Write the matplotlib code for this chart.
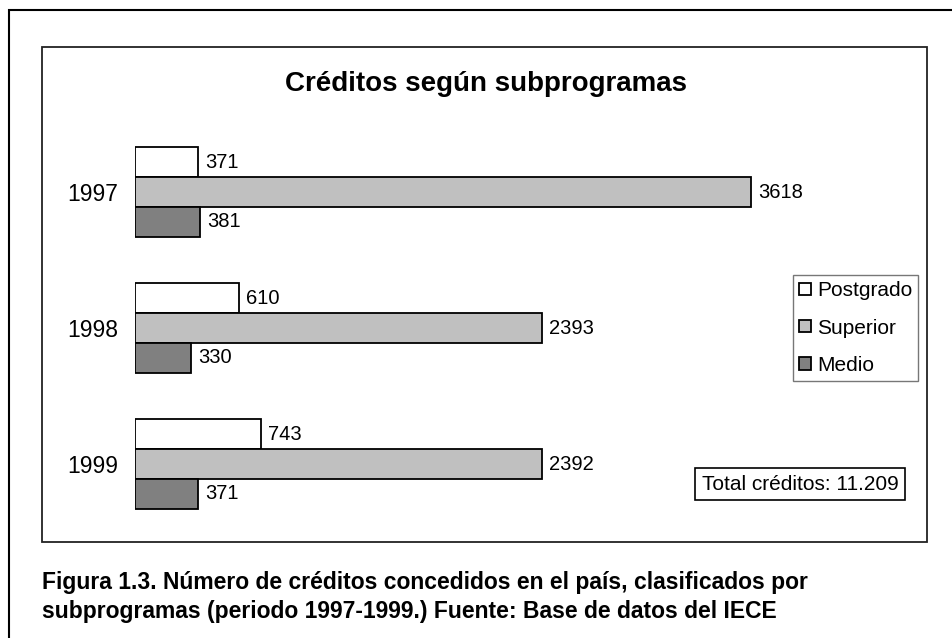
import matplotlib
matplotlib.use("Agg")
import matplotlib.pyplot as plt
from matplotlib.patches import Rectangle
import numpy as np

plt.rcParams['font.family'] = ['Liberation Sans', 'DejaVu Sans']

years = ["1997", "1998", "1999"]
series_names = ["Postgrado", "Superior", "Medio"]
postgrado = [371, 610, 743]
superior = [3618, 2393, 2392]
medio = [381, 330, 371]
colors = ["#FFFFFF", "#C0C0C0", "#808080"]
title = "Créditos según subprogramas"
total_text = "Total créditos: 11.209"
caption = ("Figura 1.3. Número de créditos concedidos en el país, clasificados por\n"
           "subprogramas (periodo 1997-1999.) Fuente: Base de datos del IECE")

W, H = 952, 638
fig = plt.figure(figsize=(W / 100, H / 100), dpi=100)

def fx(px):
    return px / W

def fy(py):
    return 1 - py / H

# outer and inner borders
fig.patches.append(Rectangle((fx(9), fy(1000)), fx(1200), fy(10) - fy(1000),
                             transform=fig.transFigure, fill=False, lw=1.5, ec="black"))
fig.patches.append(Rectangle((fx(42), fy(542)), fx(927) - fx(42), fy(47) - fy(542),
                             transform=fig.transFigure, fill=False, lw=1.3, ec="#222222"))

ax = fig.add_axes([fx(135), fy(530), fx(901) - fx(135), fy(100) - fy(530)])
ax.set_facecolor("none")
ypos = np.arange(len(years))
bh = 0.22
data = [postgrado, superior, medio]
for i, (vals, name, c) in enumerate(zip(data, series_names, colors)):
    offs = (i - 1) * bh
    bars = ax.barh(ypos + offs, vals, height=bh, color=c, edgecolor="black",
                   linewidth=1.3, label=name)
    for b, v in zip(bars, vals):
        ax.annotate(str(v), (v, b.get_y() + b.get_height() / 2),
                    xytext=(5, 0), textcoords="offset points",
                    va="center", ha="left", fontsize=14.5)

ax.set_xlim(0, 4500)
ax.set_ylim(2.485, -0.6765)
ax.set_yticks(ypos)
ax.set_yticklabels(years, fontsize=16.5)
ax.tick_params(axis="y", length=0, pad=12)
ax.set_xticks([])
for s in ax.spines.values():
    s.set_visible(False)

leg = fig.legend(loc="upper left", bbox_to_anchor=(fx(793), fy(275)),
                 frameon=True, fancybox=False, fontsize=15, handlelength=0.55,
                 handleheight=0.55, handletextpad=0.3, labelspacing=0.88,
                 borderpad=0.3, borderaxespad=0)
leg.get_frame().set_edgecolor("#555555")
leg.get_frame().set_linewidth(1.0)

fig.text(fx(486), fy(84), title, fontsize=20, fontweight="bold",
         ha="center", va="center")

fig.text(fx(800), fy(484), total_text, fontsize=15, ha="center", va="center",
         bbox=dict(boxstyle="square,pad=0.3", fc="white", ec="black", lw=1.2))

fig.text(fx(42), fy(597), caption, fontsize=16.5, fontweight="bold",
         ha="left", va="center", linespacing=1.35)

fig.savefig("out.png", dpi=100)
